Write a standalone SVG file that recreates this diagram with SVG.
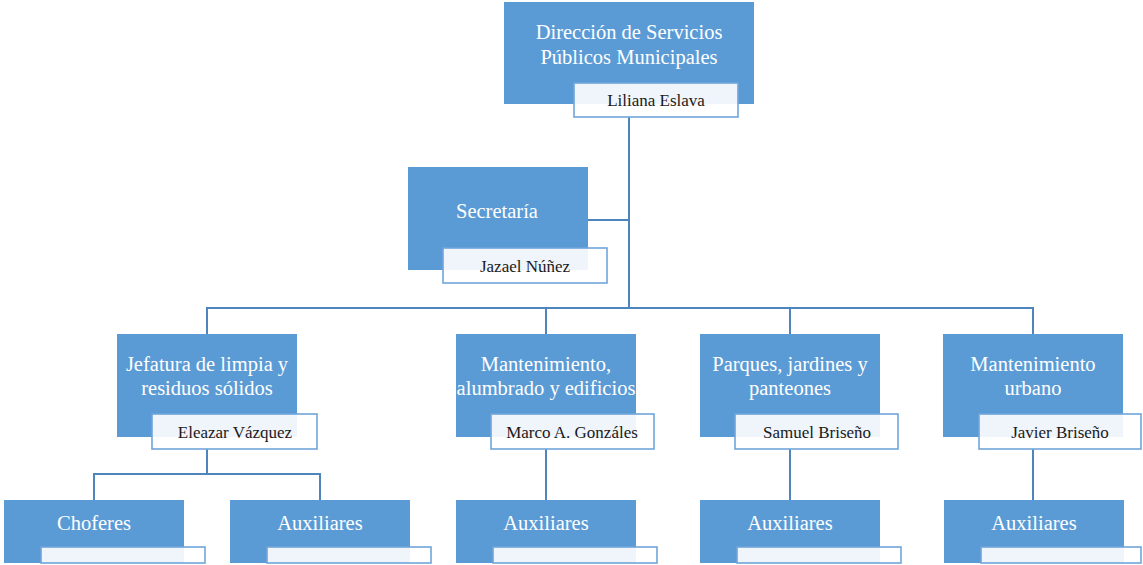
<svg xmlns="http://www.w3.org/2000/svg" width="1143" height="565" viewBox="0 0 1143 565">
  <style>
    .unit { fill: #5b9bd5; }
    .tag { fill: #ffffff; fill-opacity: 0.9; stroke: #6fa5da; stroke-width: 1.6; }
    text { font-family: "Liberation Serif", Tinos, "Times New Roman", "DejaVu Serif", "Noto Serif", Georgia, serif; text-anchor: middle; }
    .title { font-size: 20.5px; fill: #ffffff; }
    .name { font-size: 17px; fill: #1a1a1a; }
    .link { fill: none; stroke: #4f85bd; stroke-width: 2; }
  </style>
  <rect width="1143" height="565" fill="#ffffff"/>

  <!-- connectors -->
  <g id="connectors">
    <path class="link" d="M629 117 V308"/>
    <path class="link" d="M588 220 H629"/>
    <path class="link" d="M207 334 V308 H1033 V334"/>
    <path class="link" d="M546 308 V334"/>
    <path class="link" d="M790 308 V334"/>
    <path class="link" d="M207 449 V474"/>
    <path class="link" d="M94 500 V474 H320 V500"/>
    <path class="link" d="M546 449 V500"/>
    <path class="link" d="M790 449 V500"/>
    <path class="link" d="M1033 449 V500"/>
  </g>

  <!-- top level -->
  <g id="direccion">
    <rect class="unit" x="504" y="2" width="250" height="102"/>
    <text class="title" x="629" y="39">Dirección de Servicios</text>
    <text class="title" x="629" y="64">Públicos Municipales</text>
    <rect class="tag" x="574" y="83" width="164" height="34"/>
    <text class="name" x="656" y="106">Liliana Eslava</text>
  </g>

  <g id="secretaria">
    <rect class="unit" x="408" y="167" width="180" height="103"/>
    <text class="title" x="497" y="218">Secretaría</text>
    <rect class="tag" x="443" y="248" width="164" height="35"/>
    <text class="name" x="525" y="272">Jazael Núñez</text>
  </g>

  <!-- departments -->
  <g id="limpia">
    <rect class="unit" x="117" y="334" width="180" height="103"/>
    <text class="title" x="207" y="371">Jefatura de limpia y</text>
    <text class="title" x="207" y="395">residuos sólidos</text>
    <rect class="tag" x="152" y="414" width="165" height="35"/>
    <text class="name" x="235" y="438">Eleazar Vázquez</text>
  </g>

  <g id="alumbrado">
    <rect class="unit" x="456" y="334" width="180" height="103"/>
    <text class="title" x="546" y="371">Mantenimiento,</text>
    <text class="title" x="546" y="395">alumbrado y edificios</text>
    <rect class="tag" x="491" y="414" width="163" height="35"/>
    <text class="name" x="572" y="438">Marco A. Gonzáles</text>
  </g>

  <g id="parques">
    <rect class="unit" x="700" y="334" width="180" height="103"/>
    <text class="title" x="790" y="371">Parques, jardines y</text>
    <text class="title" x="790" y="395">panteones</text>
    <rect class="tag" x="735" y="414" width="163" height="35"/>
    <text class="name" x="817" y="438">Samuel Briseño</text>
  </g>

  <g id="urbano">
    <rect class="unit" x="943" y="334" width="180" height="103"/>
    <text class="title" x="1033" y="371">Mantenimiento</text>
    <text class="title" x="1033" y="395">urbano</text>
    <rect class="tag" x="979" y="414" width="162" height="35"/>
    <text class="name" x="1060" y="438">Javier Briseño</text>
  </g>

  <!-- staff -->
  <g id="choferes">
    <rect class="unit" x="4" y="500" width="180" height="63"/>
    <text class="title" x="94" y="530">Choferes</text>
    <rect class="tag" x="41" y="547" width="164" height="16"/>
  </g>

  <g id="auxiliares-limpia">
    <rect class="unit" x="230" y="500" width="180" height="63"/>
    <text class="title" x="320" y="530">Auxiliares</text>
    <rect class="tag" x="267" y="547" width="164" height="16"/>
  </g>

  <g id="auxiliares-alumbrado">
    <rect class="unit" x="456" y="500" width="180" height="63"/>
    <text class="title" x="546" y="530">Auxiliares</text>
    <rect class="tag" x="493" y="547" width="164" height="16"/>
  </g>

  <g id="auxiliares-parques">
    <rect class="unit" x="700" y="500" width="180" height="63"/>
    <text class="title" x="790" y="530">Auxiliares</text>
    <rect class="tag" x="737" y="547" width="164" height="16"/>
  </g>

  <g id="auxiliares-urbano">
    <rect class="unit" x="944" y="500" width="180" height="63"/>
    <text class="title" x="1034" y="530">Auxiliares</text>
    <rect class="tag" x="981" y="547" width="160" height="16"/>
  </g>
</svg>
